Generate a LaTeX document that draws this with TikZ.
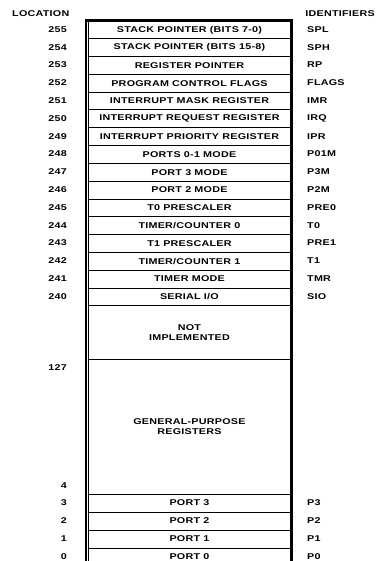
\documentclass[tikz,border=0pt]{standalone}
\usepackage{fontspec}
\setmainfont{Liberation Sans}
\newfontfamily\widefont[FakeStretch=1.28,LetterSpace=3]{Liberation Sans}
\begin{document}
\begin{tikzpicture}[x=1pt,y=-1pt,
  every node/.style={font=\widefont\bfseries\fontsize{8.4}{9.8}\selectfont, inner sep=0pt},
  regrow/.style={draw, line width=0.9pt, minimum width=203pt, anchor=north west, align=center},
  loc/.style={anchor=east},
  ident/.style={anchor=west},
  frame/.style={line width=2.4pt}]
\useasboundingbox (0,0) rectangle (378,561);
\node[anchor=west] (lochead) at (12,14) {LOCATION};
\node[anchor=east] (idhead) at (375,14) {IDENTIFIERS};
\def\rh{17.8}
\foreach \n/\txt/\id [count=\k from 0] in {
  255/{STACK POINTER (BITS 7-0)}/SPL,
  254/{STACK POINTER (BITS 15-8)}/SPH,
  253/{REGISTER POINTER}/RP,
  252/{PROGRAM CONTROL FLAGS}/FLAGS,
  251/{INTERRUPT MASK REGISTER}/IMR,
  250/{INTERRUPT REQUEST REGISTER}/IRQ,
  249/{INTERRUPT PRIORITY REGISTER}/IPR,
  248/{PORTS 0-1 MODE}/P01M,
  247/{PORT 3 MODE}/P3M,
  246/{PORT 2 MODE}/P2M,
  245/{T0 PRESCALER}/PRE0,
  244/{TIMER/COUNTER 0}/T0,
  243/{T1 PRESCALER}/PRE1,
  242/{TIMER/COUNTER 1}/T1,
  241/{TIMER MODE}/TMR,
  240/{SERIAL I/O}/SIO}{
  \pgfmathsetmacro{\ytop}{20.5+\k*\rh}
  \node[regrow, minimum height=\rh pt] (r\n) at (87.5,\ytop) {\txt};
  \node[loc] (l\n) at (67,\ytop+\rh/2) {\n};
  \node[ident] (i\n) at (307,\ytop+\rh/2) {\id};
}
\node[regrow, minimum height=53.2pt] (notimpl) at (87.5,305.3) {NOT\\IMPLEMENTED};
\node[regrow, minimum height=135pt] (gpr) at (87.5,358.5) {GENERAL-PURPOSE\\REGISTERS};
\node[loc] (l127) at (67,368) {127};
\node[loc] (l4) at (67,486) {4};
\foreach \n/\txt/\id/\ytop in {3/PORT 3/P3/493.5, 2/PORT 2/P2/511.5, 1/PORT 1/P1/529.5, 0/PORT 0/P0/547.5}{
  \node[regrow, minimum height=18pt] (p\n) at (87.5,\ytop) {\txt};
  \node[loc] (l\n) at (67,\ytop+9) {\n};
  \node[ident] (i\n) at (307,\ytop+9) {\id};
}
\coordinate (bl) at (86,563);
\coordinate (br) at (291.5,563);
\draw[frame] (bl) |- (r255.north) -| (br);
\end{tikzpicture}
\end{document}
